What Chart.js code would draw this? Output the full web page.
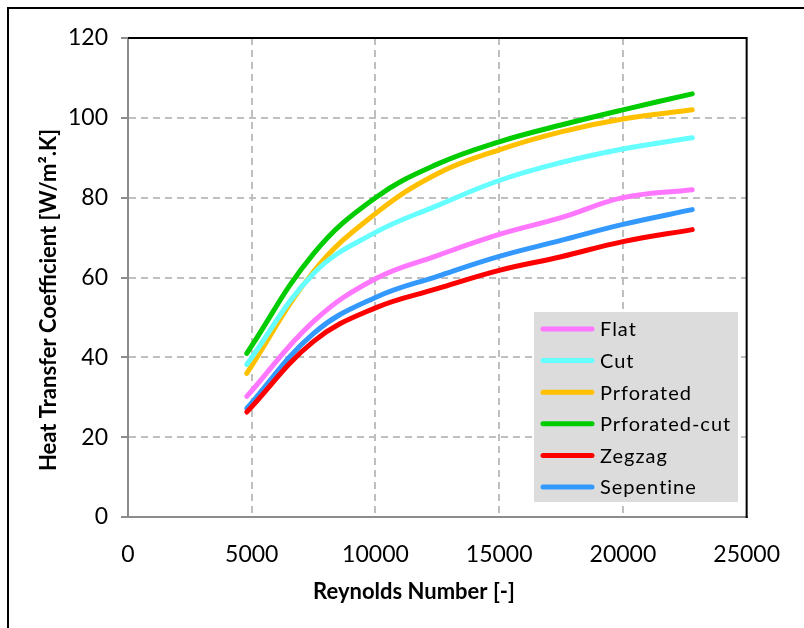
<!DOCTYPE html>
<html lang="en">
<head>
  <meta charset="UTF-8">
  <title>Heat Transfer Coefficient vs Reynolds Number</title>
  <script src="https://cdn.jsdelivr.net/npm/chart.js"></script>
  <style>
    html, body { margin: 0; padding: 0; background: #ffffff; }
    #wrap { width: 804px; height: 628px; }
  </style>
</head>
<body>
  <div id="wrap"><canvas id="htcChart" width="804" height="628"></canvas></div>

  <script>
    // values
    const reynolds = [4800, 7500, 10000, 12500, 15000, 17500, 20000, 22800];
    const flat = [30.2, 49, 59.7, 65.5, 70.8, 75, 80, 82];
    const cut = [38.2, 61, 71.3, 78, 84.3, 88.8, 92.2, 95];
    const prforated = [36, 61.5, 76, 86, 92, 96.5, 99.7, 102];
    const prforatedCut = [41, 66, 80, 88.4, 94, 98.2, 102, 106];
    const zegzag = [26.3, 44, 52.4, 57.2, 61.8, 65.2, 69, 72];
    const sepentine = [27.2, 46, 55, 60.3, 65.3, 69.3, 73.3, 77];

    const seriesNames = ["Flat", "Cut", "Prforated", "Prforated-cut", "Zegzag", "Sepentine"];
    const seriesValues = [flat, cut, prforated, prforatedCut, zegzag, sepentine];
    const seriesColors = ["#ff77ff", "#66ffff", "#ffc000", "#00cc00", "#ff0000", "#3399ff"];

    const xTicks = [0, 5000, 10000, 15000, 20000, 25000];
    const yTicks = [0, 20, 40, 60, 80, 100, 120];

    const xTitle = "Reynolds Number [-]";
    const yTitle = "Heat Transfer Coefficient [W/m\u00b2.K]";

    const FONT = "Lato, 'Open Sans', sans-serif";

    const datasets = seriesNames.map((name, i) => ({
      label: name,
      data: reynolds.map((re, j) => ({ x: re, y: seriesValues[i][j] })),
      borderColor: seriesColors[i],
      backgroundColor: seriesColors[i],
      borderWidth: 5,
      borderCapStyle: "round",
      pointRadius: 0,
      tension: 0.4,
      fill: false
    }));

    // outer frame, plot frame (top/right), axis titles and the grey legend box
    const decorations = {
      id: "decorations",
      beforeDraw(chart) {
        const ctx = chart.ctx;
        ctx.save();
        ctx.strokeStyle = "#000";
        ctx.lineWidth = 2;
        ctx.beginPath();
        ctx.moveTo(8, 628);
        ctx.lineTo(8, 8);
        ctx.lineTo(804, 8);
        ctx.stroke();
        ctx.restore();
      },
      afterDraw(chart) {
        const ctx = chart.ctx;
        const a = chart.chartArea;
        ctx.save();
        ctx.strokeStyle = "#000";
        ctx.lineWidth = 2;
        ctx.beginPath();
        ctx.moveTo(a.left, a.top);
        ctx.lineTo(a.right, a.top);
        ctx.lineTo(a.right, a.bottom + 1);
        ctx.stroke();

        // axis titles
        ctx.fillStyle = "#000";
        ctx.font = "bold 22px " + FONT;
        ctx.textAlign = "center";
        ctx.textBaseline = "middle";
        ctx.fillText(xTitle, 414, 592);
        ctx.save();
        ctx.translate(49, 300);
        ctx.rotate(-Math.PI / 2);
        ctx.fillText(yTitle, 0, 0);
        ctx.restore();

        // legend
        const bx = a.left + 406, by = a.top + 274, bw = 204, bh = 190;
        ctx.fillStyle = "#dcdcdc";
        ctx.fillRect(bx, by, bw, bh);
        ctx.font = "20px " + FONT;
        ctx.letterSpacing = "1px";
        ctx.textBaseline = "middle";
        ctx.textAlign = "left";
        chart.data.datasets.forEach((ds, i) => {
          const cy = by + 17 + i * 31.6;
          ctx.strokeStyle = ds.borderColor;
          ctx.lineWidth = 5;
          ctx.lineCap = "round";
          ctx.beginPath();
          ctx.moveTo(bx + 9, cy);
          ctx.lineTo(bx + 58, cy);
          ctx.stroke();
          ctx.fillStyle = "#000";
          ctx.fillText(ds.label, bx + 66, cy + 1);
        });
        ctx.letterSpacing = "0px";
        ctx.restore();
      }
    };

    const gridColor = (ctx) => {
      const v = ctx.tick ? ctx.tick.value : null;
      return (v === 0 || v === 25000 || v === 120) ? "rgba(0,0,0,0)" : "#bfbfbf";
    };

    new Chart(document.getElementById("htcChart").getContext("2d"), {
      type: "line",
      data: { datasets },
      options: {
        responsive: false,
        animation: false,
        layout: { padding: { left: 0, top: 38, right: 54, bottom: 0 } },
        plugins: {
          legend: { display: false },
          tooltip: { enabled: false }
        },
        scales: {
          x: {
            type: "linear",
            min: 0,
            max: 25000,
            afterBuildTicks: (scale) => { scale.ticks = xTicks.map(v => ({ value: v })); },
            afterFit: (scale) => { scale.height = 111; },
            ticks: {
              color: "#000",
              font: { family: FONT, size: 23 },
              padding: 24,
              maxRotation: 0,
              callback: (v) => String(v)
            },
            grid: {
              color: gridColor,
              lineWidth: 2,
              drawTicks: false
            },
            border: { display: true, color: "#8c8c8c", width: 2, dash: [7, 5] }
          },
          y: {
            min: 0,
            max: 120,
            afterBuildTicks: (scale) => { scale.ticks = yTicks.map(v => ({ value: v })); },
            afterFit: (scale) => { scale.width = 128; },
            ticks: {
              color: "#000",
              font: { family: FONT, size: 23 },
              padding: 13
            },
            grid: {
              color: gridColor,
              lineWidth: 2,
              drawTicks: true,
              tickLength: 7,
              tickColor: "#8c8c8c",
              tickWidth: 2
            },
            border: { display: true, color: "#8c8c8c", width: 2, dash: [7, 5] }
          }
        }
      },
      plugins: [decorations]
    });
  </script>
</body>
</html>
